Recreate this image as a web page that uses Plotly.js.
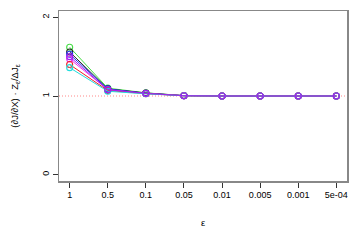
<!DOCTYPE html>
<html><head><meta charset="utf-8">
<script src="https://cdn.plot.ly/plotly-3.0.1.min.js"></script>
<style>html,body{margin:0;padding:0;background:#fff;}#chart{width:360px;height:240px;}</style>
</head><body><div id="chart"></div>
<script>
const epsLabels = ['1','0.5','0.1','0.05','0.01','0.005','0.001','5e-04'];
const xPos = [1,2,3,4,5,6,7,8];
const seriesNames = ['s1','s2','s3','s4','s5','s6','s7'];
const seriesColors = ['#44dd44','#222222','#2233ee','#ee33ee','#ee2222','#22dddd','#a020f0'];
const sGreen   = [1.62, 1.10, 1.040, 1.005, 1.000, 1.000, 1.000, 1.000];
const sBlack   = [1.56, 1.09, 1.038, 1.005, 1.000, 1.000, 1.000, 1.000];
const sBlue    = [1.53, 1.09, 1.035, 1.004, 1.000, 1.000, 1.000, 1.000];
const sMagenta = [1.47, 1.08, 1.032, 1.004, 1.000, 1.000, 1.000, 1.000];
const sRed     = [1.40, 1.07, 1.030, 1.003, 1.000, 1.000, 1.000, 1.000];
const sCyan    = [1.36, 1.06, 1.028, 1.003, 1.000, 1.000, 1.000, 1.000];
const sPurple  = [1.50, 1.08, 1.033, 1.004, 1.000, 1.000, 1.000, 1.000];
const allSeries = [sGreen, sBlack, sBlue, sMagenta, sRed, sCyan, sPurple];
const refValue = 1;

const traces = allSeries.map((ys, i) => ({
  x: xPos, y: ys, type: 'scatter', mode: 'lines+markers', name: seriesNames[i],
  line: {color: seriesColors[i], width: 1},
  marker: {symbol: 'circle-open', size: 6, color: seriesColors[i], line: {width: 1.1, color: seriesColors[i]}},
  showlegend: false, cliponaxis: false
}));

const font = {family: 'Liberation Sans, Arial, sans-serif', size: 9, color: '#000'};
const layout = {
  width: 360, height: 240,
  margin: {l: 59, r: 13, t: 11, b: 59},
  paper_bgcolor: '#fff', plot_bgcolor: '#fff',
  font: font,
  showlegend: false,
  xaxis: {
    range: [0.72, 8.28], tickmode: 'array', tickvals: xPos, ticktext: epsLabels,
    ticks: 'outside', ticklen: 5, tickcolor: '#333', tickwidth: 1,
    showgrid: false, zeroline: false, showline: true, mirror: true,
    linecolor: '#888', linewidth: 1.5, tickfont: {size: 9},
    title: {text: 'ε', font: {size: 9.5}, standoff: 20}
  },
  yaxis: {
    range: [-0.08, 2.08], tickmode: 'array', tickvals: [0,1,2], ticktext: ['0','1','2'],
    ticks: 'outside', ticklen: 5, tickcolor: '#333', tickwidth: 1, tickangle: -90,
    showgrid: false, zeroline: false, showline: true, mirror: true,
    linecolor: '#888', linewidth: 1.5, tickfont: {size: 9},
    title: {text: '(∂J/∂X) · Z<sub>ε</sub>/ΔJ<sub>ε</sub>', font: {size: 9.5}, standoff: 20}
  },
  shapes: [{type: 'line', xref: 'paper', x0: 0, x1: 1, yref: 'y', y0: refValue, y1: refValue,
            line: {color: '#ff8888', width: 1, dash: '1px,2px'}, layer: 'below'}]
};
Plotly.newPlot('chart', traces, layout, {staticPlot: true, displayModeBar: false});
</script></body></html>
